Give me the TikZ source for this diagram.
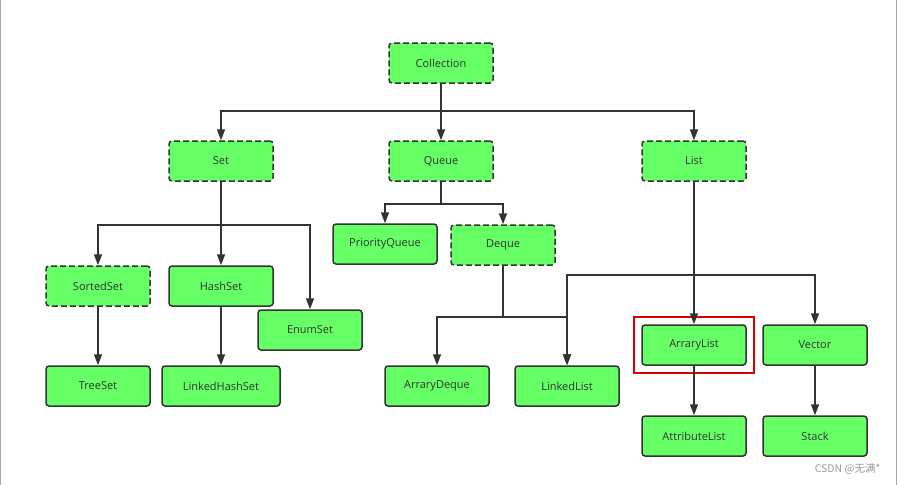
\documentclass[tikz,border=0pt]{standalone}
\usepackage{fontspec}
\setmainfont{Open Sans}
\newfontfamily\cjk{Noto Sans CJK SC}
\usepackage{tikz}
\usetikzlibrary{positioning, arrows.meta, fit}
\definecolor{boxgreen}{HTML}{66FF66}
\definecolor{edgegray}{HTML}{333333}

\begin{document}
\begin{tikzpicture}[x=1pt, y=1pt, node distance=100pt, on grid,
        cls/.style={draw=edgegray, fill=boxgreen, rounded corners=3pt, line width=1.5pt,
            minimum width=104pt, minimum height=40pt, text=edgegray,
            font=\fontsize{11}{13}\selectfont},
        iface/.style={cls, dash pattern=on 6pt off 3pt},
        arr/.style={draw=edgegray, line width=1.6pt, -{Triangle[length=11pt,width=8pt]}}]

        \useasboundingbox (0,0) rectangle (898,-485);
        \draw[gray!70] (0.5,0) -- (0.5,-485);
        \draw[gray!70] (896.5,0) -- (896.5,-485);

        \node[iface] (coll) at (441,-63) {Collection};
        \node[iface, below left=98pt and 220pt of coll] (set) {Set};
        \node[iface, below=98pt of coll] (queue) {Queue};
        \node[iface, below right=98pt and 253pt of coll] (list) {List};

        \node[cls, below left=83pt and 56pt of queue] (pq) {PriorityQueue};
        \node[iface, below right=84pt and 62pt of queue] (deque) {Deque};

        \node[iface, below left=125pt and 123pt of set] (sorted) {SortedSet};
        \node[cls, below=125pt of set] (hash) {HashSet};
        \node[cls, below right=169pt and 89pt of set] (enum) {EnumSet};

        \node[cls, below=of sorted] (tree) {TreeSet};
        \node[cls, below=of hash, minimum width=118pt] (lhs) {LinkedHashSet};

        \node[cls, below left=141pt and 66pt of deque] (adeque) {ArraryDeque};
        \node[cls, below right=141pt and 64pt of deque] (llist) {LinkedList};

        \node[cls, below=184pt of list] (alist) {ArraryList};
        \node[cls, right=121pt of alist] (vector) {Vector};
        \node[cls, below=91pt of alist] (attr) {AttributeList};
        \node[cls, below=91pt of vector] (stack) {Stack};

        \node[draw=red!85!black, line width=2pt, inner xsep=7pt, inner ysep=7.5pt, fit=(alist)] (mark) {};

        % branch points
        \coordinate[below=27pt of coll.south] (j1);
        \coordinate[below=43pt of set.south] (j2);
        \coordinate[below=22pt of queue.south] (j3);
        \coordinate[below=51pt of deque.south] (j4);
        \coordinate[below=93pt of list.south] (j5);

        \draw[arr] (coll) -- (j1) -| (set);
        \draw[arr] (j1) -- (queue);
        \draw[arr] (j1) -| (list);

        \draw[arr] (set) -- (j2) -| (sorted);
        \draw[arr] (j2) -- (hash);
        \draw[arr] (j2) -| (enum);
        \draw[arr] (sorted) -- (tree);
        \draw[arr] (hash) -- (lhs);

        \draw[arr] (queue) -- (j3) -| (pq);
        \draw[arr] (j3) -| (deque);
        \draw[arr] (deque) -- (j4) -| (adeque);
        \draw[arr] (j4) -| (llist);

        \draw[arr] (list) -- (alist);
        \draw[arr] (j5) -| (llist);
        \draw[arr] (j5) -| (vector);
        \draw[arr] (alist) -- (attr);
        \draw[arr] (vector) -- (stack);

        \node[anchor=east, text=gray!80, font=\cjk\fontsize{10.5}{12}\selectfont] (wm) at (884,-469) {CSDN @无满*};

    \end{tikzpicture}
\end{document}
